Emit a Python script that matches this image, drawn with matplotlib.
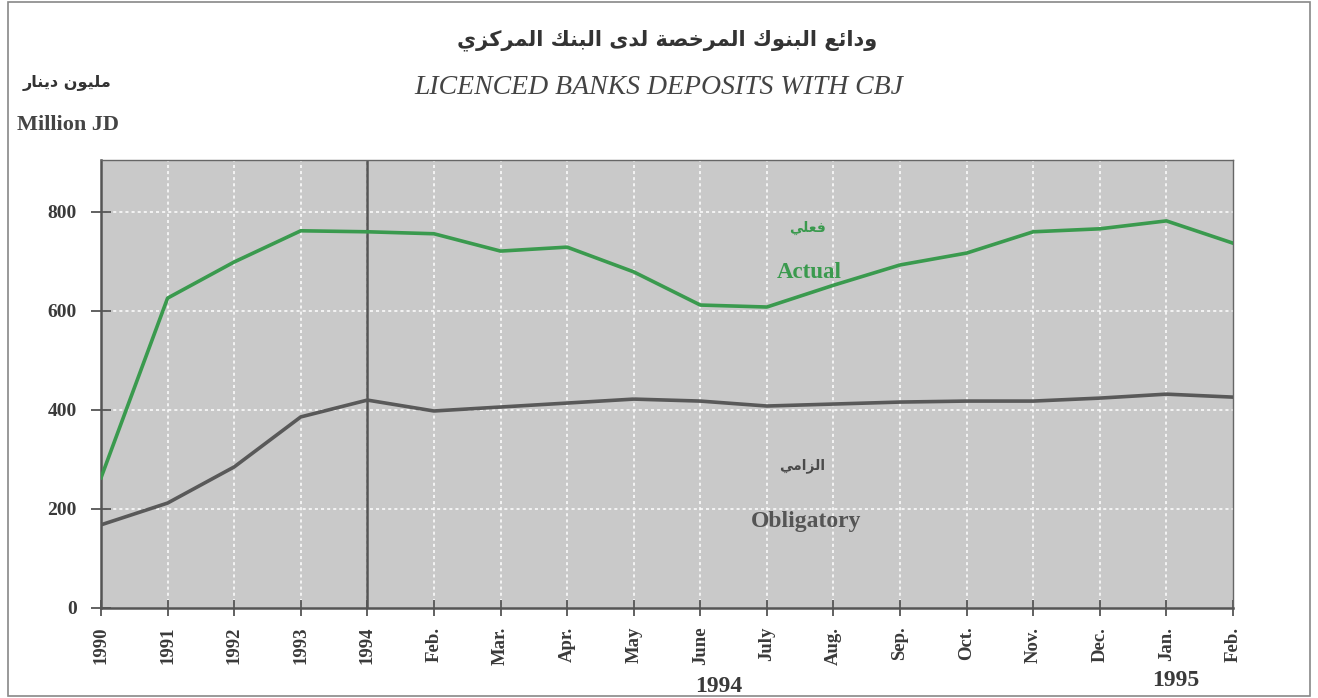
import matplotlib
matplotlib.use('Agg')
import matplotlib.pyplot as plt
from matplotlib.patches import Rectangle

# ---------------- data ----------------
categories = ['1990', '1991', '1992', '1993', '1994', 'Feb.', 'Mar.', 'Apr.', 'May',
              'June', 'July', 'Aug.', 'Sep.', 'Oct.', 'Nov.', 'Dec.', 'Jan.', 'Feb.']
actual = [263, 626, 699, 762, 760, 756, 721, 729, 679, 612, 608, 652, 693, 717, 760, 766, 782, 737]
obligatory = [168, 212, 285, 386, 420, 398, 406, 414, 422, 418, 408, 412, 416, 418, 418, 424, 432, 426]
yticks = [0, 200, 400, 600, 800]

title_ar = 'ودائع البنوك المرخصة لدى البنك المركزي'
title_en = 'LICENCED BANKS DEPOSITS WITH CBJ'
unit_ar = 'مليون دينار'
unit_en = 'Million JD'
actual_ar = 'فعلي'
actual_en = 'Actual'
oblig_ar = 'الزامي'
oblig_en = 'Obligatory'

# ------------- minimal Arabic shaping (presentation forms, visual order) -------------
FORMS = {
    '\u0626': ('\uFE89', '\uFE8A', '\uFE8B', '\uFE8C'),
    '\u0627': ('\uFE8D', '\uFE8E', None, None),
    '\u0628': ('\uFE8F', '\uFE90', '\uFE91', '\uFE92'),
    '\u0629': ('\uFE93', '\uFE94', None, None),
    '\u062A': ('\uFE95', '\uFE96', '\uFE97', '\uFE98'),
    '\u062E': ('\uFEA5', '\uFEA6', '\uFEA7', '\uFEA8'),
    '\u062F': ('\uFEA9', '\uFEAA', None, None),
    '\u0631': ('\uFEAD', '\uFEAE', None, None),
    '\u0632': ('\uFEAF', '\uFEB0', None, None),
    '\u0635': ('\uFEB9', '\uFEBA', '\uFEBB', '\uFEBC'),
    '\u0639': ('\uFEC9', '\uFECA', '\uFECB', '\uFECC'),
    '\u0641': ('\uFED1', '\uFED2', '\uFED3', '\uFED4'),
    '\u0643': ('\uFED9', '\uFEDA', '\uFEDB', '\uFEDC'),
    '\u0644': ('\uFEDD', '\uFEDE', '\uFEDF', '\uFEE0'),
    '\u0645': ('\uFEE1', '\uFEE2', '\uFEE3', '\uFEE4'),
    '\u0646': ('\uFEE5', '\uFEE6', '\uFEE7', '\uFEE8'),
    '\u0648': ('\uFEED', '\uFEEE', None, None),
    '\u0649': ('\uFEEF', '\uFEF0', None, None),
    '\u064A': ('\uFEF1', '\uFEF2', '\uFEF3', '\uFEF4'),
}


def shape(text):
    out = []
    n = len(text)
    for i, c in enumerate(text):
        if c not in FORMS:
            out.append(c)
            continue
        prev = text[i - 1] if i > 0 else ''
        nxt = text[i + 1] if i + 1 < n else ''
        cp = prev in FORMS and FORMS[prev][2] is not None
        cn = nxt in FORMS and FORMS[c][2] is not None
        iso, fin, ini, med = FORMS[c]
        if cp and cn:
            out.append(med)
        elif cp:
            out.append(fin)
        elif cn:
            out.append(ini)
        else:
            out.append(iso)
    return ''.join(reversed(out))


SERIF = 'Liberation Serif'
ARAB = ['DejaVu Sans']
TXT = '#3a3a3a'

# ---------------- figure ----------------
W, H = 1318, 698
fig = plt.figure(figsize=(W / 100, H / 100), dpi=100)
fig.patch.set_facecolor('white')

# outer frame
fig.add_artist(Rectangle((8 / W, 2 / H), (1310 - 8) / W, (696 - 2) / H, transform=fig.transFigure,
                         fill=False, edgecolor='#888888', linewidth=1.2))

ax = fig.add_axes([101 / W, (H - 608) / H, (1233 - 101) / W, (608 - 160) / H])
ax.set_facecolor('#c9c9c9')
x = list(range(len(categories)))

ax.set_xlim(0, len(categories) - 1)
ax.set_ylim(0, 905)

# grid
for xi in x[1:-1]:
    ax.axvline(xi, color='white', linestyle=(0, (2, 2)), linewidth=1.1, zorder=1)
for yv in yticks[1:]:
    ax.axhline(yv, color='white', linestyle=(0, (2, 2)), linewidth=1.1, zorder=1)

# divider at 1994
ax.axvline(4, color='#555555', linewidth=1.8, zorder=2)

ax.plot(x, actual, color='#3a9a4e', linewidth=2.6, zorder=3)
ax.plot(x, obligatory, color='#595959', linewidth=2.6, zorder=3)

ax.set_xticks(x)
ax.set_xticklabels(categories, rotation=90, fontfamily=SERIF, fontweight='bold',
                   fontsize=13.5, color=TXT)
ax.set_yticks(yticks)
ax.set_yticklabels([str(v) for v in yticks], fontfamily=SERIF, fontweight='bold',
                   fontsize=14, color=TXT)
ax.tick_params(axis='y', direction='inout', length=15, width=1.3, color='#555555', pad=10)
ax.tick_params(axis='x', direction='inout', length=11, width=1.3, color='#555555', pad=8)

for s in ['left', 'bottom']:
    ax.spines[s].set_color('#555555')
    ax.spines[s].set_linewidth(1.8)
for s in ['top', 'right']:
    ax.spines[s].set_color('#666666')
    ax.spines[s].set_linewidth(1.0)


def px(xp, yp):
    return (xp / W, 1 - yp / H)


# series labels
fig.text(*px(808, 228), shape(actual_ar), ha='center', va='center', color='#3a9a4e',
         family=ARAB, fontweight='bold', fontsize=10)
fig.text(*px(809, 273), actual_en, ha='center', va='center', color='#3a9a4e',
         family=SERIF, fontweight='bold', fontsize=16.5)
fig.text(*px(802, 466), shape(oblig_ar), ha='center', va='center', color='#4a4a4a',
         family=ARAB, fontweight='bold', fontsize=10)
fig.text(*px(806, 521), oblig_en, ha='center', va='center', color='#555555',
         family=SERIF, fontweight='bold', fontsize=17)

# titles
fig.text(*px(667, 40), shape(title_ar), ha='center', va='center', color='#333333',
         family=ARAB, fontweight='bold', fontsize=15)
fig.text(*px(659, 87), title_en, ha='center', va='center', color='#444444',
         family=SERIF, style='italic', fontsize=20)
fig.text(*px(67, 83), shape(unit_ar), ha='center', va='center', color='#333333',
         family=ARAB, fontweight='bold', fontsize=11.5)
fig.text(*px(68, 125), unit_en, ha='center', va='center', color='#444444',
         family=SERIF, fontweight='bold', fontsize=16)

# year labels under months
fig.text(*px(719, 687), '1994', ha='center', va='center', color=TXT,
         family=SERIF, fontweight='bold', fontsize=17)
fig.text(*px(1176, 681), '1995', ha='center', va='center', color=TXT,
         family=SERIF, fontweight='bold', fontsize=17)

fig.savefig('out.png', dpi=100)
